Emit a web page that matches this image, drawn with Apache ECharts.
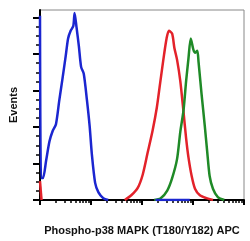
<!DOCTYPE html>
<html>
<head>
<meta charset="utf-8">
<script src="https://cdn.jsdelivr.net/npm/echarts@6/dist/echarts.min.js"></script>
<style>html,body{margin:0;padding:0;background:#fff}#c{width:250px;height:241px}</style>
</head>
<body>
<div id="c"></div>
<script>
// x values are in log decades of APC intensity (0 = 10^0 ... 4 = 10^4); y in arbitrary event units
const xAxisTitle = 'Phospho-p38 MAPK (T180/Y182) APC';
const yAxisTitle = 'Events';
const xMajorTicks = [0, 1, 2, 3, 4];
const yMajorTicks = [0, 1, 2, 3, 4, 5];

const blueMain = [[0,5.05],[0.02,0.60],[0.058,0.60],[0.121,1.09],[0.186,1.61],[0.250,1.90],[0.313,2.08],[0.378,2.73],[0.441,3.33],[0.505,3.96],[0.551,4.43],[0.601,4.64],[0.653,4.77],[0.678,5.13],[0.716,4.74],[0.762,4.22],[0.806,3.65],[0.858,3.46],[0.921,2.73],[0.973,2.03],[1.017,1.25],[1.081,0.47],[1.146,0.21],[1.242,0.05],[1.338,0]];
const blueBase = [[2.265,0],[2.937,0]];
const redPile = [[0,0.52],[0.03,0]];
const redMain = [[1.663,0],[1.790,0.13],[1.919,0.34],[2.015,0.70],[2.111,1.30],[2.207,1.90],[2.290,2.53],[2.355,3.20],[2.399,3.65],[2.432,3.98],[2.482,4.43],[2.528,4.64],[2.591,4.56],[2.635,4.17],[2.687,3.85],[2.751,3.26],[2.815,2.40],[2.865,1.69],[2.911,1.17],[2.975,0.65],[3.039,0.31],[3.135,0.13],[3.264,0.05],[3.392,0]];
const greenMain = [[2.239,0],[2.367,0.05],[2.495,0.26],[2.591,0.60],[2.687,1.12],[2.751,1.87],[2.815,2.47],[2.865,3.26],[2.911,3.88],[2.956,4.43],[3.008,4.12],[3.038,4.04],[3.084,4.09],[3.109,3.78],[3.167,2.92],[3.231,2.03],[3.277,1.35],[3.327,0.65],[3.391,0.31],[3.487,0.08],[3.614,0]];

const xMinorTicks = [];
for (let n = 0; n < 4; n++) for (let k = 2; k <= 9; k++) xMinorTicks.push(n + Math.log10(k));
const yMinorTicks = [];
for (let v = 0; v < 5; v++) for (let s = 1; s < 4; s++) yMinorTicks.push(v + s / 4);

const XMIN = 0, XMAX = 4, YMIN = 0, YMAX = 5.21;
const BLUE = '#1b26d0', RED = '#e3222a', GREEN = '#1f8a27';

function line(data, color) {
  return { type: 'line', data: data, showSymbol: false, symbol: 'none', smooth: 0.25,
    lineStyle: { color: color, width: 2.5 }, z: 3, animation: false };
}

const chart = echarts.init(document.getElementById('c'), null, { renderer: 'canvas' });
chart.setOption({
  animation: false,
  grid: { left: 35, right: 6, top: 10, bottom: 31, show: true, borderColor: '#888', borderWidth: 1 },
  xAxis: [
    { type: 'value', min: XMIN, max: XMAX, position: 'bottom',
      name: xAxisTitle, nameLocation: 'middle', nameGap: 25,
      nameTextStyle: { fontFamily: 'Liberation Sans, Arial, sans-serif', fontWeight: 'bold', fontSize: 11, color: '#111' },
      axisLine: { show: true, lineStyle: { color: '#000', width: 2 } },
      axisTick: { show: true, customValues: xMajorTicks, length: 5, lineStyle: { color: '#000', width: 2 } },
      axisLabel: { show: false }, splitLine: { show: false } },
    { type: 'value', min: XMIN, max: XMAX, position: 'bottom',
      axisLine: { show: false },
      axisTick: { show: true, customValues: xMinorTicks, length: 3, lineStyle: { color: '#000', width: 1.5 } },
      axisLabel: { show: false }, splitLine: { show: false } }
  ],
  yAxis: [
    { type: 'value', min: YMIN, max: YMAX, position: 'left',
      name: yAxisTitle, nameLocation: 'middle', nameGap: 21,
      nameTextStyle: { fontFamily: 'Liberation Sans, Arial, sans-serif', fontWeight: 'bold', fontSize: 11, color: '#111' },
      axisLine: { show: true, lineStyle: { color: '#000', width: 2 } },
      axisTick: { show: true, customValues: yMajorTicks, length: 7, lineStyle: { color: '#000', width: 2 } },
      axisLabel: { show: false }, splitLine: { show: false } },
    { type: 'value', min: YMIN, max: YMAX, position: 'left',
      axisLine: { show: false },
      axisTick: { show: true, customValues: yMinorTicks, length: 4, lineStyle: { color: '#000', width: 1.5 } },
      axisLabel: { show: false }, splitLine: { show: false } }
  ],
  series: [
    line(redPile, RED),
    line(redMain, RED),
    line(greenMain, GREEN),
    line(blueMain, BLUE),
    line(blueBase, BLUE)
  ]
});
</script>
</body>
</html>
